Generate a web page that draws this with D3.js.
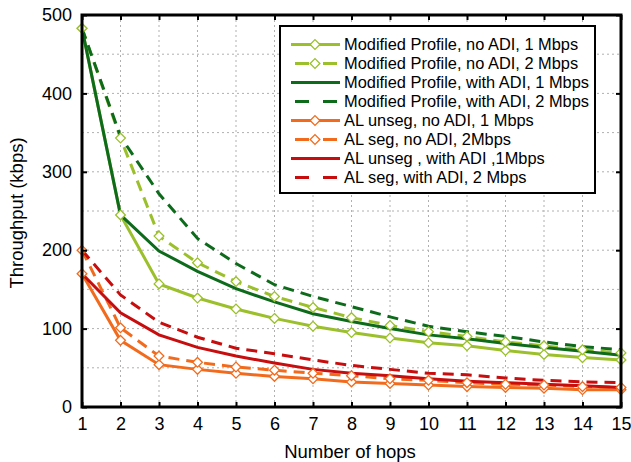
<!DOCTYPE html>
<meta charset="utf-8">
<html>
<head>
    <title>Throughput vs number of hops</title>
    <script src="https://cdn.jsdelivr.net/npm/d3@7"></script>
    <style>
        body { margin: 0; background: #fff; }
        svg text { font-family: "Liberation Sans", Arial, sans-serif; fill: #000; }
        .grid line { stroke: #b0b0b0; stroke-width: 1; stroke-dasharray: 2,3; }
    </style>
</head>
<body>
    <div id="chart"></div>
    <script>
        // data
        var hops = [1, 2, 3, 4, 5, 6, 7, 8, 9, 10, 11, 12, 13, 14, 15];
        var modNoAdi1 = [483, 245, 157, 139, 125, 113, 103, 95, 88, 82, 78, 72, 67, 63, 60];
        var modNoAdi2 = [483, 343, 218, 184, 160, 141, 127, 114, 104, 96, 90, 83, 78, 73, 69];
        var modAdi1 = [483, 245, 199, 173, 151, 134, 119, 109, 100, 92, 87, 81, 76, 71, 66];
        var modAdi2 = [483, 345, 272, 215, 183, 156, 141, 128, 115, 103, 96, 90, 83, 77, 73];
        var alUnsegNoAdi1 = [170, 85, 54, 48, 43, 39, 36, 32, 30, 28, 26, 25, 24, 22, 22];
        var alSegNoAdi2 = [200, 101, 65, 57, 51, 47, 43, 40, 36, 34, 31, 29, 28, 26, 25];
        var alUnsegAdi1 = [170, 120, 92, 76, 65, 56, 48, 43, 40, 36, 33, 31, 29, 27, 25];
        var alSegAdi2 = [200, 143, 108, 89, 75, 68, 60, 53, 48, 43, 41, 37, 34, 32, 31];
        var yTicks = [0, 100, 200, 300, 400, 500];

        var series = [
            { name: "Modified Profile, no ADI, 1 Mbps", values: modNoAdi1, color: "#9bc02b", dash: null, marker: true },
            { name: "Modified Profile, no ADI, 2 Mbps", values: modNoAdi2, color: "#9bc02b", dash: "11,7", marker: true },
            { name: "Modified Profile, with ADI, 1 Mbps", values: modAdi1, color: "#0d6b1b", dash: null, marker: false },
            { name: "Modified Profile, with ADI, 2 Mbps", values: modAdi2, color: "#0d6b1b", dash: "11,7", marker: false },
            { name: "AL unseg, no ADI, 1 Mbps", values: alUnsegNoAdi1, color: "#f26b1d", dash: null, marker: true },
            { name: "AL seg, no ADI, 2Mbps", values: alSegNoAdi2, color: "#f26b1d", dash: "11,7", marker: true },
            { name: "AL unseg , with ADI ,1Mbps", values: alUnsegAdi1, color: "#c70d0d", dash: null, marker: false },
            { name: "AL seg, with ADI, 2 Mbps", values: alSegAdi2, color: "#c70d0d", dash: "11,7", marker: false }
        ];

        var width = 631, height = 462;
        var margin = { top: 15, right: 10, bottom: 55, left: 82 };
        var plotW = 621 - margin.left, plotH = 407 - margin.top;

        var svg = d3.select("#chart").append("svg")
            .attr("width", width)
            .attr("height", height);

        var g = svg.append("g")
            .attr("transform", "translate(" + margin.left + "," + margin.top + ")");

        var x = d3.scaleLinear().domain([1, 15]).range([0, plotW]);
        var y = d3.scaleLinear().domain([0, 500]).range([plotH, 0]);

        // dotted grid
        var grid = g.append("g").attr("class", "grid");
        grid.selectAll(".vx").data(hops.slice(1, -1)).enter().append("line")
            .attr("x1", function (d) { return x(d); }).attr("x2", function (d) { return x(d); })
            .attr("y1", 0).attr("y2", plotH);
        grid.selectAll(".hy").data(d3.range(50, 500, 50)).enter().append("line")
            .attr("x1", 0).attr("x2", plotW)
            .attr("y1", function (d) { return y(d); }).attr("y2", function (d) { return y(d); });

        // lines
        var line = d3.line()
            .x(function (d, i) { return x(hops[i]); })
            .y(function (d) { return y(d); });

        var diamond = d3.symbol().type(d3.symbolDiamond2).size(60);

        series.forEach(function (s) {
            g.append("path")
                .datum(s.values)
                .attr("fill", "none")
                .attr("stroke", s.color)
                .attr("stroke-width", 3)
                .attr("stroke-dasharray", s.dash)
                .attr("d", line);
        });
        series.forEach(function (s) {
            if (!s.marker) return;
            g.selectAll(null).data(s.values).enter().append("path")
                .attr("d", diamond)
                .attr("transform", function (d, i) { return "translate(" + x(hops[i]) + "," + y(d) + ")"; })
                .attr("fill", "#fff")
                .attr("stroke", s.color)
                .attr("stroke-width", 1.3);
        });

        // axes, ticks inward on all four sides
        var xAxis = g.append("g").attr("transform", "translate(0," + plotH + ")")
            .call(d3.axisBottom(x).tickValues(hops).tickSize(-5).tickPadding(10).tickFormat(d3.format("d")));
        var xTop = g.append("g")
            .call(d3.axisTop(x).tickValues(hops).tickSize(-5).tickFormat(""));
        var yAxis = g.append("g")
            .call(d3.axisLeft(y).tickValues(yTicks).tickSize(-5).tickPadding(10));
        var yRight = g.append("g").attr("transform", "translate(" + plotW + ",0)")
            .call(d3.axisRight(y).tickValues(yTicks).tickSize(-5).tickFormat(""));

        [xAxis, xTop, yAxis, yRight].forEach(function (a) {
            a.select(".domain").remove();
            a.selectAll(".tick line").attr("stroke", "#000").attr("stroke-width", 2);
            a.selectAll("text").style("font-size", "18px");
        });

        g.append("rect")
            .attr("width", plotW).attr("height", plotH)
            .attr("fill", "none").attr("stroke", "#000").attr("stroke-width", 3);

        // axis titles
        svg.append("text")
            .attr("x", 350).attr("y", 458)
            .attr("text-anchor", "middle")
            .style("font-size", "18.5px")
            .text("Number of hops");

        svg.append("text")
            .attr("transform", "translate(23,213) rotate(-90)")
            .attr("text-anchor", "middle")
            .style("font-size", "18.5px")
            .text("Throughput (kbps)");

        // legend
        var legend = svg.append("g").attr("transform", "translate(280,26)");
        legend.append("rect")
            .attr("width", 315).attr("height", 167)
            .attr("fill", "#fff").attr("stroke", "#000").attr("stroke-width", 2);

        series.forEach(function (s, i) {
            var row = legend.append("g").attr("transform", "translate(0," + (18.5 + i * 19) + ")");
            row.append("line")
                .attr("x1", s.dash ? 15 : 11).attr("x2", 60)
                .attr("stroke", s.color).attr("stroke-width", 3)
                .attr("stroke-dasharray", s.dash ? "14,14" : null);
            if (s.marker) {
                row.append("path")
                    .attr("d", diamond)
                    .attr("transform", "translate(35,0)")
                    .attr("fill", "#fff").attr("stroke", s.color).attr("stroke-width", 1.3);
            }
            row.append("text")
                .attr("x", 64).attr("y", 5.5)
                .style("font-size", "16.4px")
                .text(s.name);
        });
    </script>
</body>
</html>
